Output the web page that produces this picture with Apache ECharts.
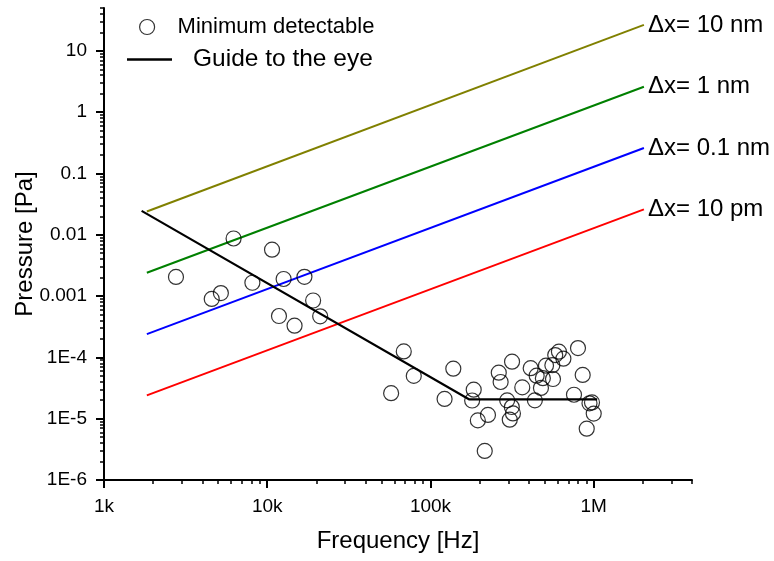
<!DOCTYPE html>
<html>
<head>
<meta charset="utf-8">
<title>Minimum detectable pressure</title>
<script src="https://cdn.jsdelivr.net/npm/echarts@6/dist/echarts.min.js"></script>
<style>
  html, body { margin: 0; padding: 0; background: #fff; }
  #main { width: 774px; height: 561px; }
</style>
</head>
<body>
<div id="main"></div>
<script type="text/javascript">
// measured points [frequency Hz, pressure Pa]
var minDetectable = [
  [2760, 2.05e-3], [4570, 8.97e-4], [5200, 1.12e-3], [6220, 8.7e-3], [8110, 1.65e-3],
  [10700, 5.71e-3], [12600, 1.90e-3], [16900, 2.06e-3], [19100, 8.47e-4], [11800, 4.73e-4],
  [14700, 3.29e-4], [21100, 4.67e-4],
  [57400, 2.61e-5], [68600, 1.25e-4], [79000, 4.99e-5], [122000, 2.10e-5], [138000, 6.54e-5],
  [184000, 2.97e-5], [180000, 1.98e-5], [195000, 9.38e-6], [225000, 1.15e-5], [215000, 2.98e-6],
  [262000, 5.63e-5], [269000, 3.97e-5], [316000, 8.51e-5], [295000, 1.99e-5], [315000, 1.55e-5],
  [320000, 1.22e-5], [306000, 9.63e-6], [365000, 3.24e-5], [411000, 6.66e-5], [436000, 1.99e-5],
  [447000, 5.03e-5], [475000, 3.17e-5], [488000, 4.58e-5], [510000, 7.32e-5], [558000, 7.46e-5],
  [563000, 4.44e-5], [581000, 1.09e-4], [612000, 1.24e-4], [652000, 9.52e-5], [757000, 2.46e-5],
  [801000, 1.42e-4], [856000, 5.18e-5], [942000, 1.78e-5], [976000, 1.84e-5], [1000000, 1.21e-5],
  [906000, 6.87e-6]
];
var guideLine = [[1700, 0.0245], [172000, 2.07e-5], [1050000, 2.07e-5]];

// displacement lines: start and end points
var lineNames = ['Δx= 10 nm', 'Δx= 1 nm', 'Δx= 0.1 nm', 'Δx= 10 pm'];
var lineColors = ['#808000', '#008000', '#0000ff', '#ff0000'];
var lineFreq = [1830, 2030000];
var linePressure = [
  [0.024, 26.5],
  [0.0024, 2.6],
  [0.00024, 0.26],
  [0.000024, 0.026]
];

var xTickValues = [1e3, 1e4, 1e5, 1e6];
var xTickLabels = ['1k', '10k', '100k', '1M'];
var yTickValues = [1e-6, 1e-5, 1e-4, 1e-3, 1e-2, 1e-1, 1, 10];
var yTickLabels = ['1E-6', '1E-5', '1E-4', '0.001', '0.01', '0.1', '1', '10'];
var xMin = 1e3, xMax = 4e6, yMin = 1e-6, yMax = 50;

function minorTicks(lo, hi) {
  var out = [];
  for (var d = Math.floor(Math.log10(lo)); d <= Math.ceil(Math.log10(hi)); d++) {
    for (var k = 2; k <= 9; k++) {
      var v = k * Math.pow(10, d);
      if (v > lo && v <= hi * 1.0001) out.push(v);
    }
  }
  return out;
}

function labelFor(values, labels) {
  return function (v) {
    for (var i = 0; i < values.length; i++) {
      if (Math.abs(Math.log10(v) - Math.log10(values[i])) < 1e-6) return labels[i];
    }
    return '';
  };
}

var font = 'Liberation Sans';
var series = [];
lineNames.forEach(function (name, i) {
  series.push({
    name: name,
    type: 'line',
    xAxisIndex: 0, yAxisIndex: 0,
    data: [[lineFreq[0], linePressure[i][0]], [lineFreq[1], linePressure[i][1]]],
    symbol: 'none',
    lineStyle: { color: lineColors[i], width: 2 },
    itemStyle: { color: lineColors[i] },
    endLabel: { show: true, formatter: '{a}', color: '#000', fontSize: 24, fontFamily: font, distance: 4 },
    silent: true
  });
});
series.push({
  name: 'Guide to the eye',
  type: 'line',
  data: guideLine,
  symbol: 'none',
  lineStyle: { color: '#000', width: 2.2 },
  itemStyle: { color: '#000' }
});
series.push({
  name: 'Minimum detectable',
  type: 'scatter',
  data: minDetectable,
  symbol: 'circle',
  symbolSize: 15,
  itemStyle: { color: 'rgba(0,0,0,0)', borderColor: '#000', borderWidth: 1.2 },
  z: 5
});

var chart = echarts.init(document.getElementById('main'));
chart.setOption({
  animation: false,
  backgroundColor: '#fff',
  textStyle: { fontFamily: font },
  grid: { left: 104, right: 82, top: 8, bottom: 81, containLabel: false, outerBoundsMode: 'none' },
  legend: [{
    data: ['Minimum detectable'],
    left: 139, top: 16, padding: 0,
    itemWidth: 15, itemHeight: 15,
    itemStyle: { color: 'rgba(0,0,0,0)', borderColor: '#000', borderWidth: 1.2 },
    textStyle: { fontSize: 22, color: '#000', fontFamily: font, padding: [0, 0, 0, 18] },
    selectedMode: false
  }, {
    data: ['Guide to the eye'],
    left: 127, top: 47, padding: 0,
    icon: 'rect',
    itemWidth: 45, itemHeight: 2.5,
    itemStyle: { color: '#000' },
    textStyle: { fontSize: 24.5, color: '#000', fontFamily: font, padding: [0, 0, 0, 16] },
    selectedMode: false
  }],
  xAxis: [{
    type: 'log', logBase: 10, min: xMin, max: xMax,
    name: 'Frequency [Hz]', nameLocation: 'middle', nameGap: 49, nameMoveOverlap: false,
    nameTextStyle: { fontSize: 24, color: '#000', fontFamily: font },
    axisLine: { onZero: false, lineStyle: { color: '#000', width: 2 } },
    axisTick: { customValues: xTickValues, length: 8, lineStyle: { color: '#000', width: 2 } },
    axisLabel: { customValues: xTickValues, formatter: labelFor(xTickValues, xTickLabels),
      fontSize: 19, color: '#000', fontFamily: font, margin: 17 },
    splitLine: { show: false }
  }, {
    type: 'log', logBase: 10, min: xMin, max: xMax, position: 'bottom',
    axisLine: { show: false, onZero: false },
    axisTick: { customValues: minorTicks(xMin, xMax), length: 4, lineStyle: { color: '#000', width: 1.5 } },
    axisLabel: { show: false },
    splitLine: { show: false }
  }],
  yAxis: [{
    type: 'log', logBase: 10, min: yMin, max: yMax,
    name: 'Pressure [Pa]', nameLocation: 'middle', nameGap: 67, nameRotate: 90, nameMoveOverlap: false,
    nameTextStyle: { fontSize: 24, color: '#000', fontFamily: font },
    axisLine: { onZero: false, lineStyle: { color: '#000', width: 2 } },
    axisTick: { customValues: yTickValues, length: 8, lineStyle: { color: '#000', width: 2 } },
    axisLabel: { customValues: yTickValues, formatter: labelFor(yTickValues, yTickLabels),
      fontSize: 19, color: '#000', fontFamily: font, margin: 17 },
    splitLine: { show: false }
  }, {
    type: 'log', logBase: 10, min: yMin, max: yMax, position: 'left', offset: 0,
    axisLine: { show: false, onZero: false },
    axisTick: { customValues: minorTicks(yMin, yMax), length: 4, lineStyle: { color: '#000', width: 1.5 } },
    axisLabel: { show: false },
    splitLine: { show: false }
  }],
  series: series
});
</script>
</body>
</html>
